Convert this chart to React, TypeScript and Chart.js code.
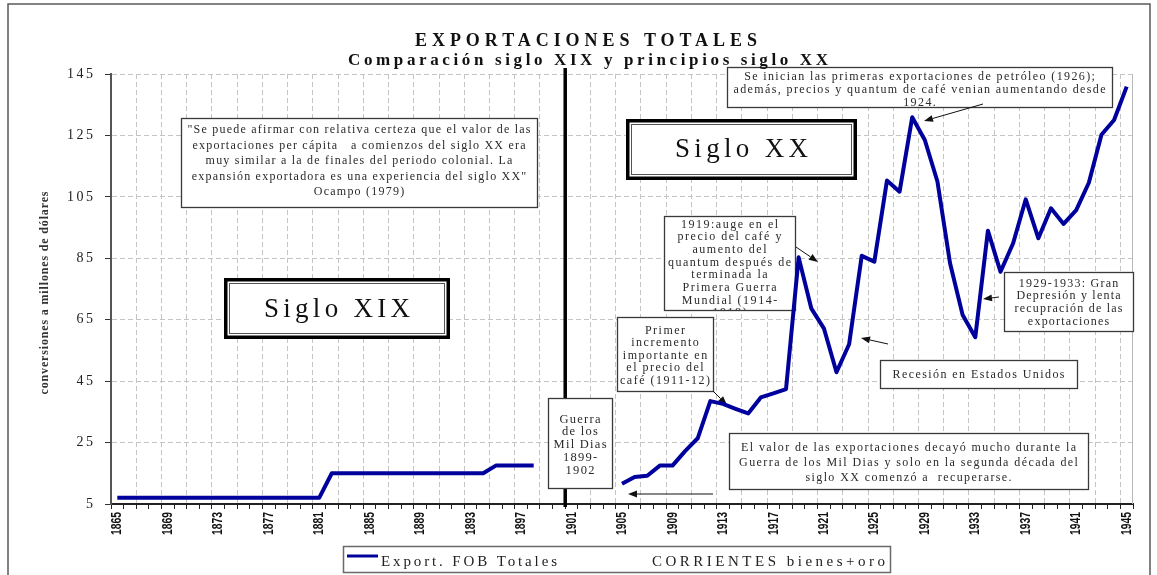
import React, { useEffect, useRef } from 'react';
import { Chart, registerables } from 'chart.js';

Chart.register(...registerables);

// ---------------- DATA ----------------
const years: number[] = [
  1865, 1866, 1867, 1868, 1869, 1870, 1871, 1872, 1873, 1874, 1875, 1876, 1877, 1878, 1879, 1880,
  1881, 1882, 1883, 1884, 1885, 1886, 1887, 1888, 1889, 1890, 1891, 1892, 1893, 1894, 1895, 1896,
  1897, 1898, 1899, 1900, 1901, 1902, 1903, 1904, 1905, 1906, 1907, 1908, 1909, 1910, 1911, 1912,
  1913, 1914, 1915, 1916, 1917, 1918, 1919, 1920, 1921, 1922, 1923, 1924, 1925, 1926, 1927, 1928,
  1929, 1930, 1931, 1932, 1933, 1934, 1935, 1936, 1937, 1938, 1939, 1940, 1941, 1942, 1943, 1944,
  1945,
];

// Export. FOB Totales (millones de dólares corrientes); null = sin dato (Guerra de los Mil Días)
const exportValues: (number | null)[] = [
  7, 7, 7, 7, 7, 7, 7, 7, 7, 7, 7, 7, 7, 7, 7, 7,
  7, 15, 15, 15, 15, 15, 15, 15, 15, 15, 15, 15, 15, 15, 17.5, 17.5,
  17.5, 17.5, null, null, null, null, null, null, 11.6, 13.8, 14.2, 17.5, 17.5, 22.2, 26.4, 38.5,
  37.6, 36.0, 34.5, 39.7, 41.0, 42.4, 85.3, 68.7, 62.2, 47.9, 57.0, 85.8, 83.9, 110.3, 106.7, 130.9,
  123.5, 110.0, 83.4, 66.5, 59.3, 94.0, 80.6, 89.9, 104.2, 91.5, 101.3, 96.2, 100.7, 109.6, 125.2, 130.0,
  140.9,
];

const xTickLabels: string[] = [
  '1865', '1869', '1873', '1877', '1881', '1885', '1889', '1893', '1897', '1901', '1905',
  '1909', '1913', '1917', '1921', '1925', '1929', '1933', '1937', '1941', '1945',
];
const yTickValues: number[] = [5, 25, 45, 65, 85, 105, 125, 145];

const seriesLabel = 'Export. FOB Totales';
const legendNote = 'CORRIENTES bienes+oro';
const titleLine1 = 'EXPORTACIONES TOTALES';
const titleLine2 = 'Comparación siglo XIX y principios siglo XX';
const yAxisTitle = 'conversiones a millones de dólares';

// ---------------- ANNOTATION LAYOUT ----------------
const SERIF = "'Liberation Serif','Times New Roman',serif";
const SANS = "'Liberation Sans','Arial',sans-serif";
const LINE_COLOR = '#00009c';
const TEXT_COLOR = '#2a2a2a';

type Box = {
  x: number; y: number; w: number; h: number;
  lines: string[]; size: number; firstY: number; gap: number;
  fit: number; fitW: number; double?: boolean; clip?: boolean; color?: string;
};

const boxes: Box[] = [
  {
    x: 181, y: 118, w: 356, h: 89, size: 12, firstY: 130, gap: 15.5, fit: 0, fitW: 343,
    lines: [
      '"Se puede afirmar con relativa certeza que el valor de las',
      'exportaciones per cápita   a comienzos del siglo XX era',
      'muy similar a la de finales del periodo colonial. La',
      'expansión exportadora es una experiencia del siglo XX"',
      'Ocampo (1979)',
    ],
  },
  { x: 224, y: 278, w: 226, h: 61, size: 27, firstY: 310, gap: 0, fit: 0, fitW: 146, double: true, color: '#111', lines: ['Siglo XIX'] },
  { x: 626, y: 119, w: 231, h: 61, size: 27, firstY: 150, gap: 0, fit: 0, fitW: 133, double: true, color: '#111', lines: ['Siglo XX'] },
  {
    x: 548, y: 398, w: 64, h: 90, size: 12.5, firstY: 419.5, gap: 12.7, fit: 2, fitW: 53,
    lines: ['Guerra', 'de los', 'Mil Dias', '1899-', '1902'],
  },
  {
    x: 617, y: 317, w: 96, h: 74, size: 12, firstY: 330.7, gap: 12.5, fit: 4, fitW: 90,
    lines: ['Primer', 'incremento', 'importante en', 'el precio del', 'café (1911-12)'],
  },
  {
    x: 664, y: 216, w: 131, h: 94, size: 12, firstY: 224.5, gap: 12.65, fit: 3, fitW: 123, clip: true,
    lines: ['1919:auge en el', 'precio del café y', 'aumento del', 'quantum después de', 'terminada la', 'Primera Guerra', 'Mundial (1914-', '1918)'],
  },
  {
    x: 727, y: 67, w: 385, h: 40, size: 12, firstY: 77, gap: 13, fit: 1, fitW: 372, clip: true,
    lines: [
      'Se inician las primeras exportaciones de petróleo (1926);',
      'además, precios y quantum de café venian aumentando desde',
      '1924.',
    ],
  },
  { x: 880, y: 360, w: 197, h: 28, size: 12, firstY: 375, gap: 0, fit: 0, fitW: 172, lines: ['Recesión en Estados Unidos'] },
  {
    x: 729, y: 433, w: 359, h: 56, size: 12, firstY: 448, gap: 15, fit: 0, fitW: 335,
    lines: [
      'El valor de las exportaciones decayó mucho durante la',
      'Guerra de los Mil Dias y solo en la segunda década del',
      'siglo XX comenzó a  recuperarse.',
    ],
  },
  {
    x: 1004, y: 272, w: 129, h: 59, size: 12, firstY: 283.5, gap: 12.7, fit: 2, fitW: 108,
    lines: ['1929-1933: Gran', 'Depresión y lenta', 'recupración de las', 'exportaciones'],
  },
];

const arrows: number[][] = [
  [713, 494, 628, 494],
  [713, 391, 727, 405],
  [796, 247, 818, 262],
  [888, 344, 861, 338],
  [983, 104, 924, 121],
  [999, 297, 983, 299],
];

// ---------------- HELPERS ----------------
function spacingFor(ctx: CanvasRenderingContext2D, text: string, target: number) {
  (ctx as any).letterSpacing = '0px';
  const w = ctx.measureText(text).width;
  return (target - w) / Math.max(1, text.length - 1);
}

function textWidth(ctx: CanvasRenderingContext2D, text: string, sp: number) {
  (ctx as any).letterSpacing = '0px';
  return ctx.measureText(text).width + sp * (text.length - 1);
}

function drawText(ctx: CanvasRenderingContext2D, text: string, x: number, y: number, sp: number, align: 'center' | 'left' | 'right') {
  const w = textWidth(ctx, text, sp);
  let x0 = x;
  if (align === 'center') x0 = x - w / 2;
  if (align === 'right') x0 = x - w;
  (ctx as any).letterSpacing = sp + 'px';
  ctx.textAlign = 'left';
  ctx.textBaseline = 'middle';
  ctx.fillText(text, x0, y);
  (ctx as any).letterSpacing = '0px';
}

function drawBox(ctx: CanvasRenderingContext2D, b: Box) {
  ctx.save();
  ctx.fillStyle = '#ffffff';
  ctx.fillRect(b.x, b.y, b.w, b.h);
  if (b.double) {
    ctx.lineWidth = 3.5;
    ctx.strokeStyle = '#000';
    ctx.strokeRect(b.x + 1.75, b.y + 1.75, b.w - 3.5, b.h - 3.5);
    ctx.lineWidth = 1;
    ctx.strokeStyle = '#555';
    ctx.strokeRect(b.x + 5.5, b.y + 5.5, b.w - 11, b.h - 11);
  } else {
    ctx.lineWidth = 1.3;
    ctx.strokeStyle = '#3a3a3a';
    ctx.strokeRect(b.x + 0.5, b.y + 0.5, b.w, b.h);
  }
  ctx.font = `${b.size}px ${SERIF}`;
  const sp = spacingFor(ctx, b.lines[b.fit], b.fitW);
  if (b.clip) {
    ctx.beginPath();
    ctx.rect(b.x + 1, b.y + 1, b.w - 1, b.h - 1);
    ctx.clip();
  }
  ctx.fillStyle = b.color || TEXT_COLOR;
  b.lines.forEach((t, i) => drawText(ctx, t, b.x + b.w / 2, b.firstY + i * b.gap, sp, 'center'));
  ctx.restore();
}

function drawArrow(ctx: CanvasRenderingContext2D, x1: number, y1: number, x2: number, y2: number) {
  ctx.save();
  ctx.strokeStyle = '#111';
  ctx.fillStyle = '#111';
  ctx.lineWidth = 1;
  const a = Math.atan2(y2 - y1, x2 - x1);
  const L = 9;
  const W = 3.5;
  const bx = x2 - L * Math.cos(a);
  const by = y2 - L * Math.sin(a);
  ctx.beginPath();
  ctx.moveTo(x1, y1);
  ctx.lineTo(bx, by);
  ctx.stroke();
  ctx.beginPath();
  ctx.moveTo(x2, y2);
  ctx.lineTo(bx - W * Math.sin(a), by + W * Math.cos(a));
  ctx.lineTo(bx + W * Math.sin(a), by - W * Math.cos(a));
  ctx.closePath();
  ctx.fill();
  ctx.restore();
}

const annotationPlugin = {
  id: 'annotations',
  beforeDatasetsDraw(chart: any) {
    const ctx: CanvasRenderingContext2D = chart.ctx;
    const area = chart.chartArea;
    // plot-area right border
    ctx.save();
    ctx.strokeStyle = '#b8b8b8';
    ctx.lineWidth = 1;
    ctx.beginPath();
    ctx.moveTo(area.right - 0.5, area.top);
    ctx.lineTo(area.right - 0.5, area.bottom);
    ctx.stroke();
    // separating line at 1901 (Guerra de los Mil Días)
    const xs = chart.scales.x.getPixelForValue(1900.5);
    ctx.strokeStyle = '#000';
    ctx.lineWidth = 3.5;
    ctx.beginPath();
    ctx.moveTo(xs, 68);
    ctx.lineTo(xs, area.bottom + 3);
    ctx.stroke();
    ctx.restore();
    boxes.forEach((b) => drawBox(ctx, b));
    arrows.forEach((a) => drawArrow(ctx, a[0], a[1], a[2], a[3]));
  },
  afterDraw(chart: any) {
    const ctx: CanvasRenderingContext2D = chart.ctx;
    ctx.save();
    // outer frame
    ctx.strokeStyle = '#5a5a5a';
    ctx.lineWidth = 1.5;
    ctx.beginPath();
    ctx.moveTo(8, 580);
    ctx.lineTo(8, 4);
    ctx.lineTo(1150, 4);
    ctx.lineTo(1150, 580);
    ctx.stroke();

    // titles
    ctx.fillStyle = '#111';
    ctx.font = `bold 18px ${SERIF}`;
    drawText(ctx, titleLine1, 586, 41, spacingFor(ctx, titleLine1, 342), 'center');
    ctx.font = `bold 17px ${SERIF}`;
    drawText(ctx, titleLine2, 588, 61, spacingFor(ctx, titleLine2, 480), 'center');

    // y tick labels
    const ys = chart.scales.y;
    ctx.font = `14px ${SERIF}`;
    ctx.fillStyle = '#222';
    const sp = spacingFor(ctx, '145', 26);
    yTickValues.forEach((v) => {
      drawText(ctx, String(v), 93, ys.getPixelForValue(v), sp, 'right');
    });

    // x tick labels (condensed, rotated, reading upwards)
    const xsScale = chart.scales.x;
    ctx.font = `bold 15px ${SANS}`;
    ctx.fillStyle = '#111';
    xTickLabels.forEach((lab) => {
      const px = xsScale.getPixelForValue(Number(lab));
      const w = ctx.measureText(lab).width;
      const sx = 23 / w;
      ctx.save();
      ctx.translate(px, 512);
      ctx.rotate(-Math.PI / 2);
      ctx.scale(sx, 1);
      ctx.textAlign = 'right';
      ctx.textBaseline = 'middle';
      ctx.fillText(lab, 0, 0);
      ctx.restore();
    });

    // y axis title
    ctx.save();
    ctx.translate(45, 293);
    ctx.rotate(-Math.PI / 2);
    ctx.font = `bold 12px ${SERIF}`;
    ctx.fillStyle = '#333';
    drawText(ctx, yAxisTitle, 0, 0, spacingFor(ctx, yAxisTitle, 203), 'center');
    ctx.restore();

    // legend
    ctx.fillStyle = '#fff';
    ctx.fillRect(343, 546, 547, 26);
    ctx.strokeStyle = '#6a6a6a';
    ctx.lineWidth = 1.5;
    ctx.strokeRect(343.5, 546.5, 547, 26);
    ctx.strokeStyle = LINE_COLOR;
    ctx.lineWidth = 3;
    ctx.beginPath();
    ctx.moveTo(347, 556);
    ctx.lineTo(378, 556);
    ctx.stroke();
    ctx.fillStyle = '#222';
    ctx.font = `15px ${SERIF}`;
    drawText(ctx, seriesLabel, 381, 562, spacingFor(ctx, seriesLabel, 176), 'left');
    drawText(ctx, legendNote, 652, 562, spacingFor(ctx, legendNote, 233), 'left');
    ctx.restore();
  },
};

export default function App() {
  const canvasRef = useRef<HTMLCanvasElement | null>(null);

  useEffect(() => {
    const canvas = canvasRef.current;
    if (!canvas) return;
    const points = years.map((yr, i) => ({ x: yr, y: exportValues[i] }));
    const chart = new Chart(canvas, {
      type: 'line',
      data: {
        datasets: [
          {
            label: seriesLabel,
            data: points as any,
            borderColor: LINE_COLOR,
            backgroundColor: LINE_COLOR,
            borderWidth: 4,
            pointRadius: 0,
            tension: 0,
            spanGaps: false,
            borderJoinStyle: 'round',
            borderCapStyle: 'butt',
          },
        ],
      },
      options: {
        responsive: false,
        animation: false,
        events: [],
        layout: { padding: { top: 74, right: 24, bottom: 0, left: 0 } },
        plugins: {
          legend: { display: false },
          title: { display: false },
          tooltip: { enabled: false },
        },
        scales: {
          x: {
            type: 'linear',
            min: 1864.5,
            max: 1945.5,
            afterBuildTicks: (scale: any) => {
              const t: { value: number }[] = [];
              for (let v = 1864.5; v <= 1945.5; v += 1) t.push({ value: v });
              scale.ticks = t;
            },
            afterFit: (scale: any) => {
              scale.height = 71;
            },
            grid: {
              color: (c: any) => {
                const v = c.tick ? c.tick.value : 0;
                const k = Math.round(v - 1866.5);
                return k >= 0 && k % 2 === 0 ? '#c4c4c4' : 'rgba(0,0,0,0)';
              },
              tickColor: '#222',
              tickLength: 5,
              lineWidth: 1,
              drawTicks: true,
            },
            border: { display: true, color: '#222', width: 2, dash: [5, 3] },
            ticks: { display: false, autoSkip: false },
          },
          y: {
            type: 'linear',
            min: 5,
            max: 145,
            afterBuildTicks: (scale: any) => {
              scale.ticks = yTickValues.map((v) => ({ value: v }));
            },
            afterFit: (scale: any) => {
              scale.width = 111;
            },
            grid: {
              color: (c: any) => (c.tick && c.tick.value === 5 ? 'rgba(0,0,0,0)' : '#c4c4c4'),
              tickColor: '#333',
              tickLength: 6,
              lineWidth: 1,
              drawTicks: true,
            },
            border: { display: true, color: '#555', width: 2, dash: [5, 3] },
            ticks: { display: false },
          },
        },
      },
      plugins: [annotationPlugin as any],
    });
    return () => chart.destroy();
  }, []);

  return (
    <div style={{ position: 'fixed', left: 0, top: 0, width: 1157, height: 575, background: '#ffffff' }}>
      <canvas ref={canvasRef} width={1157} height={575} style={{ display: 'block' }} />
    </div>
  );
}
